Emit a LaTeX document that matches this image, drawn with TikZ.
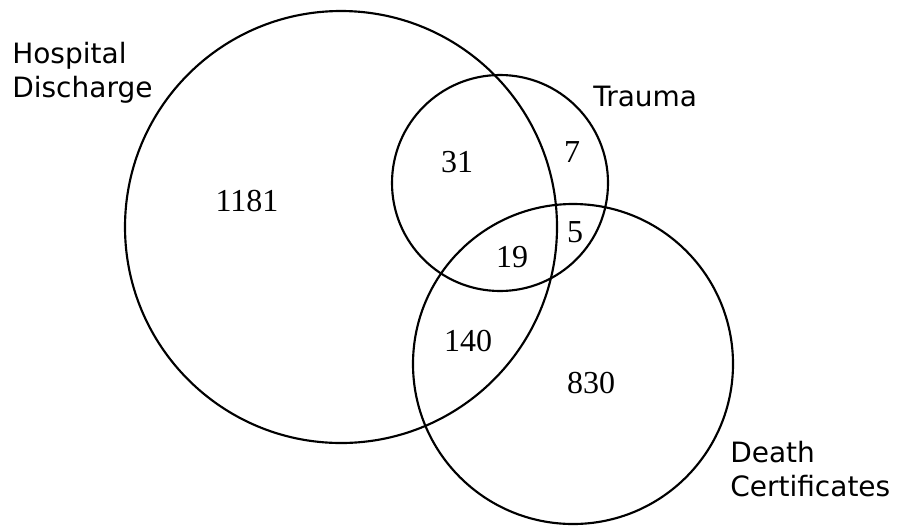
\documentclass[tikz,border=0pt]{standalone}
\usepackage{fontspec}
\setmainfont{Liberation Serif}
\newfontfamily\labelfont{DejaVu Sans}
\usetikzlibrary{positioning}

\begin{document}
\begin{tikzpicture}[
  x=0.75pt, y=-0.75pt,
  set/.style={draw=black, circle, line width=1.6pt, inner sep=0pt},
  lbl/.style={font=\labelfont\fontsize{21}{25.5}\selectfont, align=left, inner sep=0pt},
  num/.style={font=\fontsize{24}{28}\selectfont, inner sep=0pt}
]
\useasboundingbox (0,0) rectangle (898,525);
% the three sets
\node[set, minimum size=324pt] (hosp) at (341,227) {};
\node[set, minimum size=162pt] (trauma) at (500,183) {};
\node[set, minimum size=240pt] (death) at (573,364) {};
% set names
\node[lbl, anchor=north west] (hosplbl) at (12,42) {Hospital\\Discharge};
\node[lbl, anchor=base west] (traumalbl) at (593,106) {Trauma};
\node[lbl, anchor=north west] (deathlbl) at (730,441) {Death\\Certificates};
% counts
\node[num] (n1181) at (247,201) {1181};
\node[num] (n31) at (457,162) {31};
\node[num] (n7) at (572,152) {7};
\node[num] (n5) at (575,232) {5};
\node[num] (n19) at (512,257) {19};
\node[num] (n140) at (468,341) {140};
\node[num] (n830) at (591,383) {830};
\end{tikzpicture}
\end{document}
